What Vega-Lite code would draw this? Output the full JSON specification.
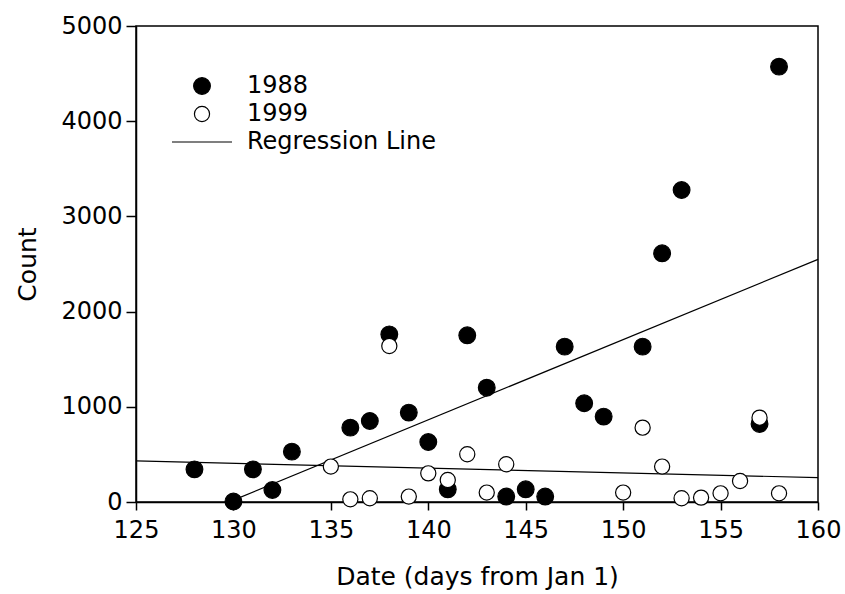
{
  "$schema": "https://vega.github.io/schema/vega-lite/v6.json",
  "width": 682,
  "height": 476,
  "autosize": {"type": "none"},
  "padding": {"left": 136, "top": 26, "right": 27, "bottom": 92},
  "background": "white",
  "config": {
    "view": {"stroke": "black", "strokeWidth": 1.5},
    "font": "DejaVu Sans",
    "axis": {
      "grid": false,
      "domainColor": "black",
      "domainWidth": 1.5,
      "tickColor": "black",
      "tickWidth": 1.5,
      "labelColor": "black",
      "titleColor": "black",
      "labelFont": "DejaVu Sans",
      "titleFont": "DejaVu Sans",
      "labelFontSize": 24,
      "titleFontSize": 25,
      "titleFontWeight": "normal",
      "labelFlush": false
    },
    "legend": {
      "orient": "none",
      "legendX": 35,
      "legendY": 46,
      "title": null,
      "columns": 1,
      "clipHeight": 28,
      "rowPadding": 0,
      "labelOffset": 14,
      "labelLimit": 400,
      "labelFont": "DejaVu Sans",
      "labelFontSize": 24,
      "labelColor": "black",
      "symbolStrokeColor": "black",
      "symbolStrokeWidth": 1.2
    }
  },
  "datasets": {
    "points": [
      {"year": "1988", "day": 128, "count": 343},
      {"year": "1988", "day": 130, "count": 5},
      {"year": "1988", "day": 131, "count": 343},
      {"year": "1988", "day": 132, "count": 126},
      {"year": "1988", "day": 133, "count": 529},
      {"year": "1988", "day": 136, "count": 781},
      {"year": "1988", "day": 137, "count": 851},
      {"year": "1988", "day": 138, "count": 1761},
      {"year": "1988", "day": 139, "count": 939},
      {"year": "1988", "day": 140, "count": 630},
      {"year": "1988", "day": 141, "count": 133},
      {"year": "1988", "day": 142, "count": 1751},
      {"year": "1988", "day": 143, "count": 1201},
      {"year": "1988", "day": 144, "count": 57},
      {"year": "1988", "day": 145, "count": 133},
      {"year": "1988", "day": 146, "count": 57},
      {"year": "1988", "day": 147, "count": 1632},
      {"year": "1988", "day": 148, "count": 1037},
      {"year": "1988", "day": 149, "count": 897},
      {"year": "1988", "day": 151, "count": 1632},
      {"year": "1988", "day": 152, "count": 2612},
      {"year": "1988", "day": 153, "count": 3277},
      {"year": "1988", "day": 157, "count": 820},
      {"year": "1988", "day": 158, "count": 4573},
      {"year": "1999", "day": 135, "count": 372},
      {"year": "1999", "day": 136, "count": 28},
      {"year": "1999", "day": 137, "count": 39},
      {"year": "1999", "day": 138, "count": 1639},
      {"year": "1999", "day": 139, "count": 57},
      {"year": "1999", "day": 140, "count": 301},
      {"year": "1999", "day": 141, "count": 231},
      {"year": "1999", "day": 142, "count": 501},
      {"year": "1999", "day": 143, "count": 99},
      {"year": "1999", "day": 144, "count": 396},
      {"year": "1999", "day": 150, "count": 99},
      {"year": "1999", "day": 151, "count": 781},
      {"year": "1999", "day": 152, "count": 372},
      {"year": "1999", "day": 153, "count": 39},
      {"year": "1999", "day": 154, "count": 46},
      {"year": "1999", "day": 155, "count": 91},
      {"year": "1999", "day": 156, "count": 221},
      {"year": "1999", "day": 157, "count": 886},
      {"year": "1999", "day": 158, "count": 91}
    ],
    "fits": [
      {"fit": "1988", "day": 130, "count": 20},
      {"fit": "1988", "day": 160, "count": 2549},
      {"fit": "1999", "day": 125, "count": 431},
      {"fit": "1999", "day": 160, "count": 256}
    ]
  },
  "encoding": {
    "x": {
      "field": "day",
      "type": "quantitative",
      "scale": {"domain": [125, 160], "nice": false, "zero": false},
      "axis": {
        "title": "Date (days from Jan 1)",
        "values": [125, 130, 135, 140, 145, 150, 155, 160],
        "format": "d",
        "tickSize": 8,
        "labelPadding": 8,
        "titlePadding": 22
      }
    },
    "y": {
      "field": "count",
      "type": "quantitative",
      "scale": {"domain": [0, 5000], "nice": false},
      "axis": {
        "title": "Count",
        "values": [0, 1000, 2000, 3000, 4000, 5000],
        "format": "d",
        "tickSize": 10,
        "labelPadding": 4,
        "titlePadding": 20
      }
    }
  },
  "layer": [
    {
      "data": {"name": "fits"},
      "mark": {"type": "line", "color": "black", "strokeWidth": 1.2},
      "encoding": {"detail": {"field": "fit", "type": "nominal"}}
    },
    {
      "data": {"name": "points"},
      "mark": {"type": "point", "filled": true, "strokeWidth": 1.2, "opacity": 1},
      "encoding": {
        "fill": {
          "field": "year",
          "type": "nominal",
          "scale": {"domain": ["1988", "1999", "Regression Line"], "range": ["black", "white", "transparent"]}
        },
        "stroke": {
          "field": "year",
          "type": "nominal",
          "scale": {"domain": ["1988", "1999", "Regression Line"], "range": ["black", "black", "black"]}
        },
        "shape": {
          "field": "year",
          "type": "nominal",
          "scale": {"domain": ["1988", "1999", "Regression Line"], "range": ["circle", "circle", "stroke"]}
        },
        "size": {
          "field": "year",
          "type": "nominal",
          "scale": {"type": "ordinal", "domain": ["1988", "1999", "Regression Line"], "range": [280, 230, 3600]}
        }
      }
    }
  ]
}
